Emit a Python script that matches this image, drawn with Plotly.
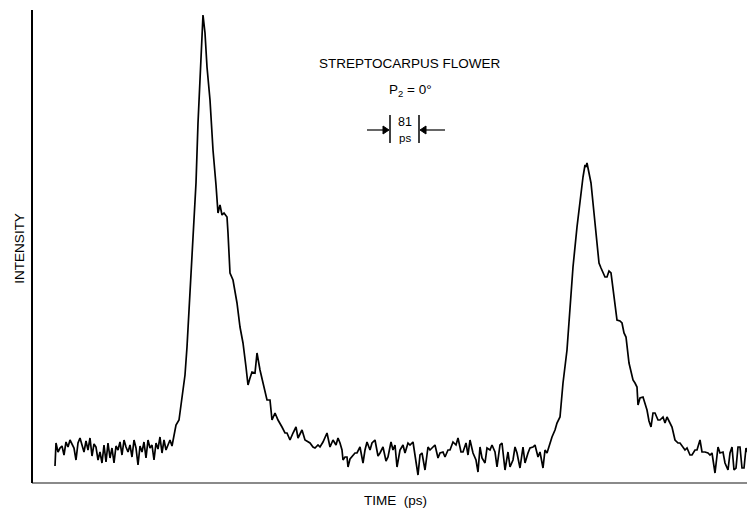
import plotly.graph_objects as go

time_ps = [
    55, 56, 58, 60, 62, 64, 66, 68, 70, 72, 74, 76, 78, 80, 82, 84, 86, 88, 90, 92,
    94, 96, 98, 100, 102, 104, 106, 108, 110, 112, 114, 116, 118, 120, 122, 124, 126, 128, 130, 132,
    134, 136, 138, 140, 142, 144, 146, 148, 150, 152, 154, 156, 158, 160, 162, 164, 166, 168, 170, 172,
    174, 176, 179, 181, 183, 185, 187, 189, 191, 193, 196, 198, 200, 202, 203, 205, 207, 210, 213, 216,
    218, 220, 222, 224, 227, 228, 230, 233, 237, 240, 243, 246, 248, 250, 252, 255, 257, 260, 263, 265,
    267, 270, 272, 275, 278, 282, 285, 287, 290, 293, 296, 298, 302, 305, 308, 310, 313, 315, 318, 320,
    323, 327, 330, 333, 336, 338, 340, 342, 343, 345, 347, 348, 350, 352, 355, 357, 360, 363, 365, 367,
    370, 372, 375, 378, 380, 383, 386, 388, 391, 393, 395, 397, 400, 403, 405, 408, 410, 413, 415, 418,
    420, 422, 425, 428, 430, 433, 435, 438, 440, 443, 445, 448, 450, 453, 456, 458, 461, 463, 466, 468,
    470, 473, 476, 478, 480, 482, 485, 487, 490, 492, 495, 497, 500, 502, 505, 508, 510, 513, 515, 517,
    520, 523, 525, 528, 530, 533, 535, 538, 540, 543, 545, 547, 550, 552, 555, 557, 560, 563, 567, 570,
    573, 577, 580, 583, 585, 586, 587, 588, 591, 594, 597, 599, 601, 603, 605, 607, 609, 611, 613, 617,
    620, 622, 624, 626, 629, 633, 635, 637, 638, 640, 643, 645, 647, 649, 651, 653, 655, 658, 660, 663,
    665, 667, 670, 672, 675, 678, 680, 683, 685, 687, 690, 692, 695, 697, 700, 702, 705, 708, 710, 712,
    714, 715, 718, 720, 723, 725, 728, 730, 732, 734, 736, 738, 740, 742, 744, 746, 748, 750,
]

intensity = [
    17, 40, 31, 35, 37, 28, 41, 36, 43, 38, 35, 23, 40, 45, 38, 31, 42, 33, 45, 27,
    39, 36, 23, 31, 20, 38, 21, 40, 25, 35, 20, 37, 33, 41, 28, 43, 36, 31, 38, 26,
    43, 35, 18, 37, 31, 41, 25, 43, 35, 38, 23, 40, 34, 46, 30, 43, 33, 39, 43, 37,
    47, 58, 63, 80, 92, 108, 136, 170, 205, 240, 300, 360, 400, 455, 468, 450, 416, 383, 333, 298,
    270, 278, 268, 270, 266, 250, 210, 203, 180, 156, 140, 116, 98, 105, 111, 110, 130, 113, 100, 93,
    83, 83, 63, 70, 63, 56, 50, 50, 43, 50, 56, 45, 53, 43, 41, 40, 36, 35, 38, 36,
    41, 50, 36, 43, 38, 45, 40, 33, 23, 26, 26, 16, 24, 26, 30, 30, 36, 20, 33, 41,
    33, 40, 43, 27, 30, 36, 22, 26, 41, 33, 38, 16, 33, 38, 30, 40, 38, 41, 26, 8,
    28, 30, 13, 36, 33, 36, 38, 25, 30, 31, 26, 33, 33, 41, 38, 45, 31, 31, 40, 28,
    43, 30, 23, 11, 36, 25, 20, 35, 33, 38, 31, 16, 38, 40, 13, 31, 16, 23, 36, 30,
    15, 36, 20, 30, 35, 36, 38, 26, 31, 15, 33, 30, 40, 46, 53, 60, 66, 100, 133, 176,
    216, 256, 283, 306, 318, 316, 320, 315, 300, 270, 243, 220, 215, 211, 206, 206, 212, 210, 193, 163,
    162, 160, 150, 146, 120, 103, 100, 96, 78, 85, 86, 80, 73, 62, 56, 70, 70, 63, 63, 66,
    60, 66, 60, 56, 43, 40, 40, 36, 33, 35, 28, 28, 33, 33, 43, 31, 31, 30, 28, 30,
    18, 10, 36, 30, 31, 20, 13, 30, 36, 13, 15, 36, 36, 15, 15, 35, 30, 33,
]

title_lines = ["STREPTOCARPUS FLOWER", "P<sub>2</sub> = 0°"]
scale_value = "81"
scale_unit = "ps"
x_label = "TIME  (ps)"
y_label = "INTENSITY"

fig = go.Figure()
fig.add_trace(go.Scatter(
    x=time_ps, y=intensity, mode="lines",
    line=dict(color="#000000", width=1.7),
    showlegend=False, hoverinfo="skip",
))

FONT = "Liberation Sans, Arial, sans-serif"
TXT = 13.5

fig.update_layout(
    width=747, height=500,
    margin=dict(l=24, r=0, t=2, b=25),
    paper_bgcolor="white", plot_bgcolor="white",
    xaxis=dict(range=[32, 755], showgrid=False, zeroline=False, showticklabels=False,
               ticks="", showline=False, fixedrange=True),
    yaxis=dict(range=[0, 473], showgrid=False, zeroline=False, showticklabels=False,
               ticks="", showline=False, fixedrange=True),
    font=dict(family=FONT, color="#000000"),
)

# axis lines as drawn on the original
fig.add_shape(type="line", xref="paper", yref="paper", x0=0, x1=1, y0=0, y1=0,
              line=dict(color="#8a8a8a", width=2))
fig.add_shape(type="line", xref="paper", yref="paper", x0=0, x1=0, y0=0, y1=1,
              line=dict(color="#000000", width=2))

ann = []
ann.append(dict(text=y_label, xref="paper", yref="paper", x=-0.017, y=0.497,
                textangle=-90, showarrow=False, font=dict(size=TXT, family=FONT),
                xanchor="center", yanchor="middle"))
ann.append(dict(text=x_label, xref="paper", yref="paper", x=(395 - 32) / 723, y=-0.036,
                showarrow=False, font=dict(size=TXT, family=FONT),
                xanchor="center", yanchor="middle"))
ann.append(dict(text=title_lines[0], x=410, y=420, showarrow=False,
                font=dict(size=TXT, family=FONT), xanchor="center", yanchor="middle"))
ann.append(dict(text=title_lines[1], x=410, y=393, showarrow=False,
                font=dict(size=TXT, family=FONT), xanchor="center", yanchor="middle"))
ann.append(dict(text=scale_value, x=405, y=361, showarrow=False,
                font=dict(size=12.5, family=FONT), xanchor="center", yanchor="middle"))
ann.append(dict(text=scale_unit, x=405, y=345, showarrow=False,
                font=dict(size=11.5, family=FONT), xanchor="center", yanchor="middle"))
fig.update_layout(annotations=ann)

# scale bracket: two bars, two shafts and two inward arrowheads
blk = dict(color="#000", width=1.5)
fig.add_shape(type="line", x0=390, x1=390, y0=340, y1=368, line=blk)
fig.add_shape(type="line", x0=419, x1=419, y0=340, y1=368, line=blk)
fig.add_shape(type="line", x0=367, x1=386, y0=353, y1=353, line=dict(color="#000", width=1.2))
fig.add_shape(type="line", x0=423, x1=445, y0=353, y1=353, line=dict(color="#000", width=1.2))
fig.add_shape(type="path", path="M 383 357 L 389 353 L 383 349 Z",
              fillcolor="#000", line=dict(color="#000", width=1))
fig.add_shape(type="path", path="M 426 357 L 420 353 L 426 349 Z",
              fillcolor="#000", line=dict(color="#000", width=1))

fig.write_html("out.html")
